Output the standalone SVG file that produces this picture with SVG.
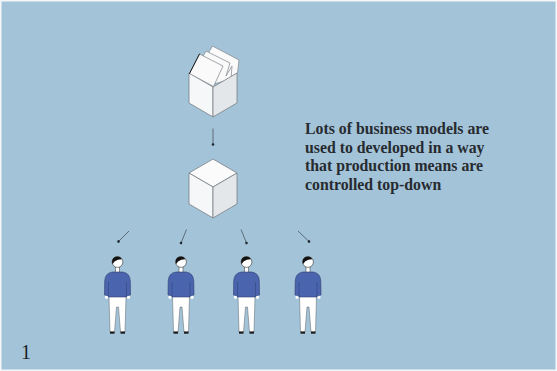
<svg xmlns="http://www.w3.org/2000/svg" width="557" height="371" viewBox="0 0 557 371">
  <style>
    .face-l { fill: #f6f7f8; stroke: #7a7f85; stroke-width: 0.8; stroke-linejoin: round; }
    .face-r { fill: #e4e7ea; stroke: #7a7f85; stroke-width: 0.8; stroke-linejoin: round; }
    .face-t { fill: #fbfbfb; stroke: #7a7f85; stroke-width: 0.8; stroke-linejoin: round; }
    .flap { fill: #fafafa; stroke: #8a8f95; stroke-width: 0.8; stroke-linejoin: round; }
    .flap-edge { fill: none; stroke: #1a1a1a; stroke-width: 1; stroke-linecap: round; }
    .conn { stroke: #3c4650; stroke-width: 0.7; fill: none; marker-end: url(#dot); }
    .caption { font-family: "Liberation Serif", "DejaVu Serif", serif; font-weight: bold; font-size: 15.8px; fill: #272b30; }
    .num { font-family: "Liberation Serif", "DejaVu Serif", serif; font-size: 20px; fill: #1e2226; }
    .sweater { fill: #4a64ae; stroke: #2f3e70; stroke-width: 0.6; }
    .pants { fill: #ffffff; stroke: #5a6068; stroke-width: 0.5; }
    .skin { fill: #ffffff; stroke: #333; stroke-width: 0.6; }
  </style>
  <defs>
    <marker id="dot" viewBox="0 0 4 4" refX="2" refY="2" markerWidth="4" markerHeight="4" markerUnits="userSpaceOnUse" orient="auto">
      <circle cx="2" cy="2" r="1.3" fill="#1e262e"/>
    </marker>
    <g id="person">
      <!-- pants -->
      <path class="pants" d="M -8.5 34 L 8.5 34 L 7.5 70 L 3 70 L 1 45 L -1 45 L -3 70 L -7.5 70 Z"/>
      <!-- shoes -->
      <rect x="-7.5" y="69.5" width="4.5" height="2.2" fill="#1a1a1a"/>
      <rect x="3" y="69.5" width="4.5" height="2.2" fill="#1a1a1a"/>
      <!-- hands -->
      <ellipse cx="-11" cy="35" rx="1.6" ry="2" fill="#fff"/>
      <ellipse cx="11" cy="35" rx="1.6" ry="2" fill="#fff"/>
      <!-- neck -->
      <rect x="-2" y="4" width="4" height="7" fill="#fff" stroke="#333" stroke-width="0.5"/>
      <!-- sweater -->
      <path class="sweater" d="M -5 10 L 5 10 Q 12.5 11 12.8 19 L 13 33 L 9 34 L 9 35 L -9 35 L -9 34 L -13 33 L -12.8 19 Q -12.5 11 -5 10 Z"/>
      <path d="M -9 20 L -9 34 M 9 20 L 9 34" stroke="#2f3e70" stroke-width="0.5" fill="none"/>
      <!-- head -->
      <circle class="skin" cx="0" cy="0" r="5.4"/>
      <path d="M -5.4 0.5 A 5.4 5.4 0 0 1 4.6 -2.8 Q 0.5 -3 -3 -0.5 Q -4 1 -5 2 Z" fill="#111"/>
    </g>
  </defs>

  <!-- backdrop -->
  <rect x="0" y="0" width="557" height="371" fill="#f4f7f9"/>
  <rect x="1.5" y="1.5" width="554" height="368" fill="#a3c3d8"/>

  <!-- connectors -->
  <g id="connectors">
    <line class="conn" x1="213" y1="128.5" x2="213" y2="144.5"/>
    <line class="conn" x1="129" y1="231" x2="118.5" y2="241.5"/>
    <line class="conn" x1="186.5" y1="229.5" x2="181" y2="243"/>
    <line class="conn" x1="241" y1="229.5" x2="246.5" y2="243"/>
    <line class="conn" x1="298" y1="231" x2="309" y2="241.5"/>
  </g>

  <!-- open box with flaps -->
  <g id="open-box">
    <polygon class="flap" points="206,57 212.5,46 239,60 237.5,73 226,80"/>
    <polygon class="flap" points="200,62 206,51 230,63 226,76 232,66 231,79 214,84"/>
    <polygon class="face-l" points="189,73 213,87 213,117 189,103"/>
    <polygon class="face-r" points="213,87 237,73 237,103 213,117"/>
    <polygon class="flap" points="189.5,73.5 199.5,54 223,66 213.5,86.5"/>
    <polyline class="flap-edge" points="189.5,73.5 199.5,54"/>
  </g>

  <!-- closed cube -->
  <g id="cube">
    <polygon class="face-t" points="213,159 237,173 213,187 189,173"/>
    <polygon class="face-l" points="189,173 213,187 213,218 189,204"/>
    <polygon class="face-r" points="213,187 237,173 237,204 213,218"/>
  </g>

  <!-- people -->
  <g id="person-1"><use href="#person" x="117.5" y="262"/></g>
  <g id="person-2"><use href="#person" x="181" y="262"/></g>
  <g id="person-3"><use href="#person" x="246.5" y="262"/></g>
  <g id="person-4"><use href="#person" x="308" y="262"/></g>

  <!-- caption -->
  <g id="caption">
    <text class="caption" x="305" y="134">Lots of business models are</text>
    <text class="caption" x="305" y="152.5">used to developed in a way</text>
    <text class="caption" x="305" y="171">that production means are</text>
    <text class="caption" x="305" y="189.5">controlled top-down</text>
  </g>

  <text class="num" x="21" y="359">1</text>
</svg>
